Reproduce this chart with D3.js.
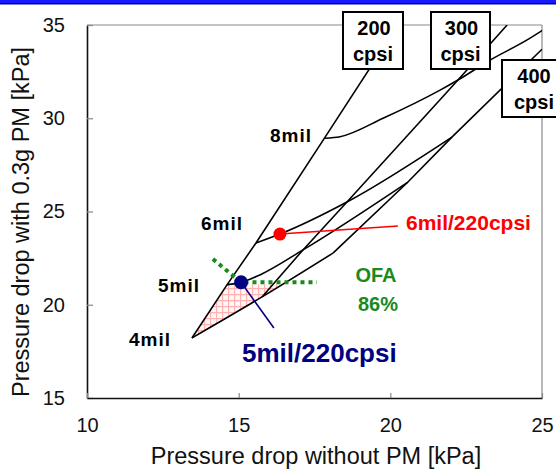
<!DOCTYPE html>
<html lang="en">
<head>
<meta charset="UTF-8">
<title>Pressure drop carpet plot</title>
<script src="https://cdn.jsdelivr.net/npm/d3@7"></script>
<style>
  body { margin: 0; background: #fff; }
  svg { display: block; font-family: "Liberation Sans", Arial, sans-serif; }
</style>
</head>
<body>
<div id="chart"></div>
<script>

// values, kPa
var xTicks = [10, 15, 20, 25];
var yTicks = [15, 20, 25, 30, 35];

// constant cell density lines (points at 4, 5, 6, 8 mil, then on towards the label box)
var cpsi200X = [13.46, 14.62, 15.57, 17.85, 20.25];
var cpsi200Y = [18.22, 21.08, 23.31, 28.99, 35.0];
var cpsi300X = [15.77, 17.12, 18.57, 22.23, 23.85];
var cpsi300Y = [20.42, 22.94, 25.51, 32.05, 35.0];
var cpsi400X = [18.11, 20.58, 22.03, 25.0];
var cpsi400Y = [22.77, 26.58, 28.99, 33.7];
var cpsiNames = ["200", "300", "400"];

// constant wall thickness lines (200 -> 400 cpsi)
var mil4X = [13.46, 15.77, 18.11];
var mil4Y = [18.22, 20.42, 22.77];
var mil5X = [14.62, 15.08, 15.70, 17.12, 20.58];
var mil5Y = [21.08, 21.2, 21.6, 22.94, 26.58];
var mil6X = [15.57, 16.36, 18.57, 22.03];
var mil6Y = [23.31, 23.79, 25.51, 28.99];
var mil8X = [17.85, 18.34, 19.76, 21.64, 22.23, 23.29, 24.51, 25.03];
var mil8Y = [28.93, 29.01, 30.0, 31.51, 32.05, 33.12, 34.2, 34.73];
var milNames = ["4mil", "5mil", "6mil", "8mil"];

// OFA 86% limit and the hatched region below it
var ofaX = [14.15, 15.08, 17.58];
var ofaY = [22.45, 21.2, 21.2];
var regionX = [13.46, 14.64, 16.42, 15.77];
var regionY = [18.22, 21.1, 21.1, 20.42];

// the two picked designs
var redPt = [16.36, 23.79];   // 6mil/220cpsi
var bluePt = [15.08, 21.2];   // 5mil/220cpsi
var redEnd = [20.25, 24.22];
var blueEnd = [16.16, 18.75];

function pts(xs, ys) { return xs.map(function(v, i) { return [v, ys[i]]; }); }

var W = 556, H = 471;
var svg = d3.select("#chart").append("svg").attr("width", W).attr("height", H);

// blue strip at the top of the slide
svg.append("rect").attr("x", 0).attr("y", 0).attr("width", W).attr("height", 3).attr("fill", "#1818ff");
svg.append("rect").attr("x", 0).attr("y", 3).attr("width", W).attr("height", 1.5).attr("fill", "#00009a");

var x = d3.scaleLinear().domain([10, 25]).range([87, 542]);
var y = d3.scaleLinear().domain([15, 35]).range([398, 25]);

var defs = svg.append("defs");
defs.append("clipPath").attr("id", "plotclip")
  .append("rect").attr("x", 87).attr("y", 25).attr("width", 455).attr("height", 373);
var pat = defs.append("pattern").attr("id", "hatch")
  .attr("patternUnits", "userSpaceOnUse").attr("width", 6).attr("height", 6);
pat.append("rect").attr("width", 6).attr("height", 6).attr("fill", "#fff6f6");
pat.append("path").attr("d", "M0,0.5H6M0.5,0V6").attr("stroke", "#ffb0b0").attr("stroke-width", 1.3);

// frame: grey top / right
svg.append("line").attr("x1", 87).attr("x2", 542).attr("y1", 25).attr("y2", 25)
  .attr("stroke", "#8a8a8a").attr("stroke-width", 1.2);
svg.append("line").attr("x1", 542).attr("x2", 542).attr("y1", 25).attr("y2", 398)
  .attr("stroke", "#8a8a8a").attr("stroke-width", 1.2);

// axes
var yAxis = svg.append("g").attr("transform", "translate(87,0)")
  .call(d3.axisLeft(y).tickValues(yTicks).tickSizeInner(-6).tickSizeOuter(0).tickPadding(22));
var xAxis = svg.append("g").attr("transform", "translate(0,398)")
  .call(d3.axisBottom(x).tickValues(xTicks).tickSizeInner(-5).tickSizeOuter(0).tickPadding(20));
[yAxis, xAxis].forEach(function(g) {
  g.select(".domain").attr("stroke", "#111").attr("stroke-width", 1.6);
  g.selectAll(".tick line").attr("stroke", "#888").attr("stroke-width", 1.2);
  g.selectAll(".tick text").attr("font-size", 20).attr("fill", "#111")
    .attr("font-family", "Liberation Sans, Arial, sans-serif");
});

svg.append("text").attr("x", 316).attr("y", 464).attr("text-anchor", "middle")
  .attr("font-size", 23.5).attr("fill", "#111").text("Pressure drop without PM [kPa]");
svg.append("text").attr("transform", "translate(29,222) rotate(-90)").attr("text-anchor", "middle")
  .attr("font-size", 23.5).attr("fill", "#111").text("Pressure drop with 0.3g PM [kPa]");

var plot = svg.append("g").attr("clip-path", "url(#plotclip)");

// hatched region
plot.append("polygon")
  .attr("points", pts(regionX, regionY).map(function(p) { return x(p[0]) + "," + y(p[1]); }).join(" "))
  .attr("fill", "url(#hatch)");

var straight = d3.line().x(function(d) { return x(d[0]); }).y(function(d) { return y(d[1]); });
var smooth = d3.line().x(function(d) { return x(d[0]); }).y(function(d) { return y(d[1]); })
  .curve(d3.curveMonotoneX);

var cpsiLines = [pts(cpsi200X, cpsi200Y), pts(cpsi300X, cpsi300Y), pts(cpsi400X, cpsi400Y)];
var milLines = [pts(mil4X, mil4Y), pts(mil5X, mil5Y), pts(mil6X, mil6Y), pts(mil8X, mil8Y)];

plot.selectAll("path.cpsi").data(cpsiLines).enter().append("path").attr("class", "cpsi")
  .attr("d", straight).attr("fill", "none").attr("stroke", "#000").attr("stroke-width", 1.6);
plot.selectAll("path.mil").data(milLines).enter().append("path").attr("class", "mil")
  .attr("d", smooth).attr("fill", "none").attr("stroke", "#000").attr("stroke-width", 1.6);

// OFA dotted limit
plot.append("path").attr("d", straight(pts(ofaX, ofaY))).attr("fill", "none")
  .attr("stroke", "#1a8a1a").attr("stroke-width", 4).attr("stroke-dasharray", "4,4");

// pointer lines and dots
svg.append("line").attr("x1", x(redPt[0])).attr("y1", y(redPt[1])).attr("x2", x(redEnd[0])).attr("y2", y(redEnd[1]))
  .attr("stroke", "#ff0000").attr("stroke-width", 1.6);
svg.append("line").attr("x1", x(bluePt[0])).attr("y1", y(bluePt[1])).attr("x2", x(blueEnd[0])).attr("y2", y(blueEnd[1]))
  .attr("stroke", "#000080").attr("stroke-width", 1.6);
svg.append("circle").attr("cx", x(redPt[0])).attr("cy", y(redPt[1])).attr("r", 6.5).attr("fill", "#ff0000");
svg.append("circle").attr("cx", x(bluePt[0])).attr("cy", y(bluePt[1])).attr("r", 7).attr("fill", "#000080");

// wall thickness labels, placed left of the 200 cpsi nodes
var milLabelAt = [[171, 346], [200, 292], [243, 230], [312, 142]];
svg.selectAll("text.mil").data(milNames).enter().append("text").attr("class", "mil")
  .attr("x", function(d, i) { return milLabelAt[i][0]; })
  .attr("y", function(d, i) { return milLabelAt[i][1]; })
  .attr("text-anchor", "end").attr("font-size", 19).attr("font-weight", "bold")
  .attr("letter-spacing", 1).attr("fill", "#000").text(function(d) { return d; });

svg.append("text").attr("x", 406).attr("y", 230).attr("font-size", 21).attr("font-weight", "bold")
  .attr("fill", "#ff0000").text("6mil/220cpsi");
svg.append("text").attr("x", 242).attr("y", 362).attr("font-size", 26).attr("font-weight", "bold")
  .attr("fill", "#000080").text("5mil/220cpsi");
svg.append("text").attr("x", 376).attr("y", 282).attr("text-anchor", "middle").attr("font-size", 20)
  .attr("font-weight", "bold").attr("fill", "#1a8a1a").text("OFA");
svg.append("text").attr("x", 378).attr("y", 311).attr("text-anchor", "middle").attr("font-size", 20)
  .attr("font-weight", "bold").attr("fill", "#1a8a1a").text("86%");

// cell density boxes
var boxes = [
  {x: 343, y: 12, w: 60, h: 57, t1: 35, t2: 61},
  {x: 431, y: 12, w: 59, h: 57, t1: 35, t2: 61},
  {x: 502, y: 60, w: 64, h: 57, t1: 83, t2: 109}
];
var bg = svg.selectAll("g.box").data(cpsiNames).enter().append("g").attr("class", "box");
bg.append("rect")
  .attr("x", function(d, i) { return boxes[i].x; }).attr("y", function(d, i) { return boxes[i].y; })
  .attr("width", function(d, i) { return boxes[i].w; }).attr("height", function(d, i) { return boxes[i].h; })
  .attr("fill", "#fff").attr("stroke", "#000").attr("stroke-width", 2);
bg.append("text").attr("text-anchor", "middle").attr("font-size", 20).attr("font-weight", "bold")
  .attr("x", function(d, i) { return boxes[i].x + boxes[i].w / 2 + (i == 2 ? 0 : 1); })
  .attr("y", function(d, i) { return boxes[i].t1; }).text(function(d) { return d; });
bg.append("text").attr("text-anchor", "middle").attr("font-size", 20).attr("font-weight", "bold")
  .attr("x", function(d, i) { return boxes[i].x + boxes[i].w / 2; })
  .attr("y", function(d, i) { return boxes[i].t2; }).text("cpsi");
</script>
</body>
</html>
